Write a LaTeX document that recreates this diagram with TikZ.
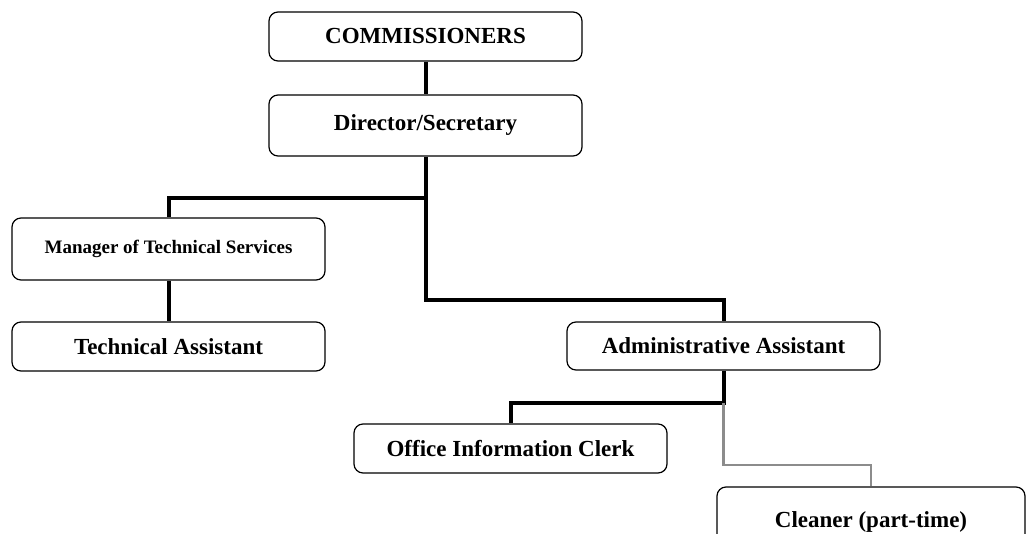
\documentclass[tikz,border=0pt]{standalone}
\usepackage{fontspec}
\setmainfont{Liberation Serif}
\usepackage{tikz}

\begin{document}
\begin{tikzpicture}[x=1pt,y=-1pt,
        box/.style={shape=rectangle,draw=black,line width=1.2pt,rounded corners=9pt,
                    minimum width=313pt,font=\fontsize{23}{27}\selectfont\bfseries},
        link/.style={draw=black,line width=4pt},
        partlink/.style={draw=black!45,line width=2.6pt}]

        \useasboundingbox (0,0) rectangle (1031,534);

        \node[box,minimum height=49pt] (comm) at (425.5, 36.5) {COMMISSIONERS};
        \node[box,minimum height=61pt] (dir) at (425.5, 125.5) {Director/Secretary};
        \node[box,minimum height=62pt,font=\fontsize{19}{23}\selectfont\bfseries] (mgr) at (168.5, 249) {Manager of Technical Services};
        \node[box,minimum height=49pt] (tech) at (168.5, 346.5) {Technical Assistant};
        \node[box,minimum height=48pt] (admin) at (723.5, 346) {Administrative Assistant};
        \node[box,minimum height=49pt] (office) at (510.5, 448.5) {Office Information Clerk};
        \node[box,minimum width=308pt,minimum height=70pt] (clean) at (871, 522) {Cleaner (part-time)};

        \coordinate (j1) at (425.5, 198);
        \coordinate (j2) at (425.5, 300);
        \coordinate (j3) at (723.5, 403);
        \coordinate (j4) at (723.5, 465);

        \path[link] (comm) edge (dir);
        \draw[link] (dir.south) -- (j2) -| (admin.north);
        \draw[link] (j1) -| (mgr.north);
        \path[link] (mgr) edge (tech);
        \draw[link] (admin.south) -- (j3) -| (office.north);
        \draw[partlink] (j3) -- (j4) -| (clean.north);

\end{tikzpicture}
\end{document}
